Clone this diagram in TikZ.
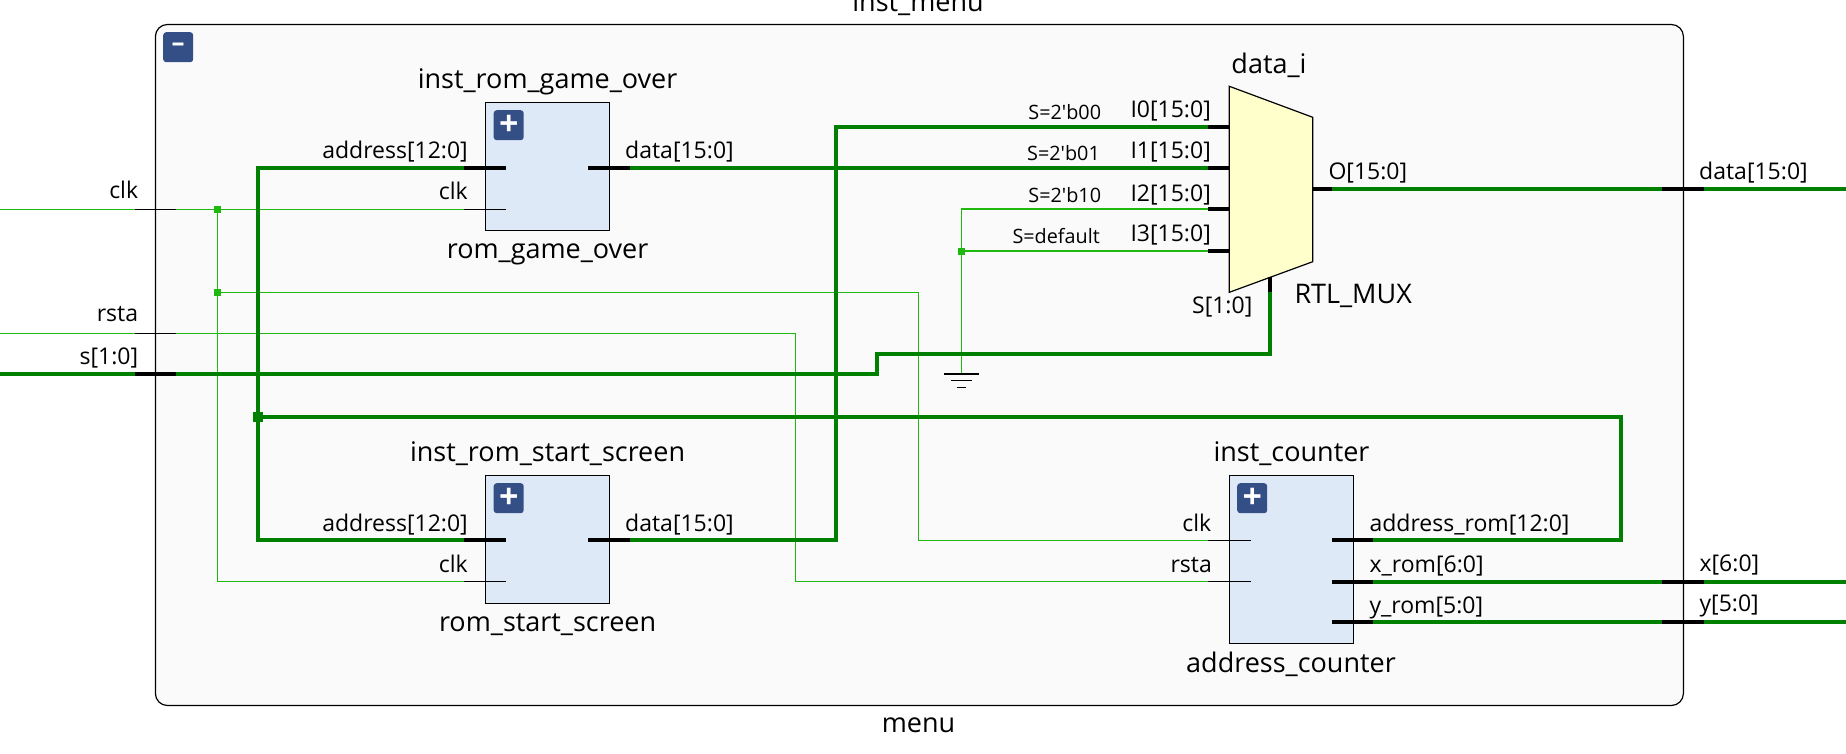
\documentclass[tikz,border=0pt]{standalone}
\usepackage{fontspec}
\setmainfont{Open Sans}
\definecolor{framebg}{HTML}{FAFAFA}
\definecolor{blockbg}{HTML}{DEE9F7}
\definecolor{muxbg}{HTML}{FFFFCC}
\definecolor{btnblue}{HTML}{344F85}
\definecolor{busgreen}{HTML}{008000}
\definecolor{netgreen}{HTML}{1FB80F}
\begin{document}
\begin{tikzpicture}[x=1pt, y=-1pt,
block/.style={draw=black, fill=blockbg, line width=1.2pt, anchor=north west, inner sep=0, outer sep=0},
button/.style={fill=btnblue, rounded corners=3pt, anchor=north west, inner sep=0, minimum width=30pt, minimum height=30pt, text=white, font=\fontsize{34}{34}\bfseries},
pinbus/.style={fill=black, inner sep=0, outer sep=0, minimum height=4pt},
pinnet/.style={fill=black, inner sep=0, outer sep=0, minimum height=1.2pt},
bus/.style={busgreen, line width=4pt},
net/.style={netgreen, line width=1.2pt},
joint/.style={inner sep=0, outer sep=0, minimum size=#1}]
\tikzstyle{lab}=[inner sep=0, font=\fontsize{23}{23}\selectfont]
\tikzstyle{namelab}=[inner sep=0, anchor=base, font=\fontsize{27}{27}\selectfont]
\tikzstyle{smalllab}=[inner sep=0, anchor=base east, font=\fontsize{19.8}{19.8}\selectfont]
\useasboundingbox (0,0) rectangle (1846,754);
%frame
\node[draw=black, fill=framebg, line width=1.2pt, rounded corners=12pt, anchor=north west, inner sep=0, outer sep=0, minimum width=1528pt, minimum height=681pt] (menuframe) at (155.4,24.5) {};
\node[button, font=\fontsize{26}{26}\bfseries] (menubtn) at (163,32) {--};
\node[namelab] (menuinst) at (918,11.7) {inst\_menu};
\node[namelab] (menuname) at (918.5,732) {menu};
%blocks
\node[block, minimum width=124pt, minimum height=128pt] (gameover) at (485.5,102.3) {};
\node[block, minimum width=124pt, minimum height=128pt] (startscreen) at (485.5,475.3) {};
\node[block, minimum width=124.4pt, minimum height=168pt] (counter) at (1229.3,475.3) {};
\node[button] (gamebtn) at (493.5,110) {+};
\node[button] (startbtn) at (493.5,483) {+};
\node[button] (counterbtn) at (1237,483) {+};
\draw[fill=muxbg, line width=1.2pt] (1229.3,86.3) -- (1312.7,117.3) -- (1312.7,261.7) -- (1229.3,292.3) -- cycle;
%pins
\node[pinnet, minimum width=41pt] (clkpin) at (155.4,209.3) {};
\node[pinnet, minimum width=41pt] (rstapin) at (155.4,333.3) {};
\node[pinbus, minimum width=41pt] (spin) at (155.4,374) {};
\node[pinbus, minimum width=42pt] (gameaddr) at (485,167.7) {};
\node[pinnet, minimum width=42pt] (gameclk) at (485,209.3) {};
\node[pinbus, minimum width=42pt] (gamedata) at (609,167.7) {};
\node[pinbus, minimum width=42pt] (startaddr) at (485,540.3) {};
\node[pinnet, minimum width=42pt] (startclk) at (485,581.8) {};
\node[pinbus, minimum width=42pt] (startdata) at (609,540.3) {};
\node[pinbus, minimum width=21pt] (muxi0) at (1218.8,126.7) {};
\node[pinbus, minimum width=21pt] (muxi1) at (1218.8,167.7) {};
\node[pinbus, minimum width=21pt] (muxi2) at (1218.8,209) {};
\node[pinbus, minimum width=21pt] (muxi3) at (1218.8,251) {};
\node[pinbus, minimum width=19.3pt] (muxo) at (1322.4,189) {};
\node[fill=black, inner sep=0, outer sep=0, minimum width=4pt, minimum height=15.6pt] (muxs) at (1270,284.5) {};
\node[pinnet, minimum width=43pt] (ctrclk) at (1229.5,540.8) {};
\node[pinnet, minimum width=43pt] (ctrrsta) at (1229.5,581.8) {};
\node[pinbus, minimum width=41pt] (ctraddr) at (1352.5,540.3) {};
\node[pinbus, minimum width=41pt] (ctrx) at (1352.5,581.6) {};
\node[pinbus, minimum width=41pt] (ctry) at (1352.5,622.2) {};
\node[pinbus, minimum width=42pt] (datapin) at (1683,189) {};
\node[pinbus, minimum width=42pt] (xpin) at (1683,581.6) {};
\node[pinbus, minimum width=42pt] (ypin) at (1683,622.2) {};
%ends and turns
\coordinate (clkin) at (0,209.3);
\coordinate (rstain) at (0,333.3);
\coordinate (sin) at (0,374);
\coordinate (dataout) at (1846,189);
\coordinate (xout) at (1846,581.6);
\coordinate (yout) at (1846,622.2);
\coordinate (clkturn) at (918.3,292.3);
\coordinate (rstaturn) at (795.8,333.3);
\coordinate (sturna) at (877,374);
\coordinate (sturnb) at (877,354);
\coordinate (addrturn) at (1621,417);
\coordinate (i0turn) at (835.5,126.7);
\coordinate (gnd) at (961.3,374);
\node[joint=7pt, fill=netgreen] (clkjoin) at (217.5,209.3) {};
\node[joint=7pt, fill=netgreen] (rstjoin) at (217.5,292.3) {};
\node[joint=7pt, fill=netgreen] (gndjoin) at (961.3,251) {};
\node[joint=10pt, fill=busgreen] (addrjoin) at (258,417) {};
%nets
\draw[net] (clkin) -- (clkpin.west);
\draw[net] (clkpin.east) -- (gameclk.west);
\draw[net] (clkjoin) |- (startclk.west);
\draw[net] (rstjoin) -- (clkturn) |- (ctrclk.west);
\draw[net] (rstain) -- (rstapin.west);
\draw[net] (rstapin.east) -- (rstaturn) |- (ctrrsta.west);
\draw[net] (muxi3.west) -- (gndjoin);
\draw[net] (gndjoin) |- (muxi2.west);
\draw[net] (gndjoin) -- (gnd);
%ground
\draw[line width=1.2pt] ([xshift=-17.5pt]gnd) -- ([xshift=17.5pt]gnd);
\draw[line width=1.2pt] ([xshift=-10.5pt,yshift=-6.7pt]gnd) -- ([xshift=10.5pt,yshift=-6.7pt]gnd);
\draw[line width=1.2pt] ([xshift=-4.7pt,yshift=-13.3pt]gnd) -- ([xshift=4.7pt,yshift=-13.3pt]gnd);
%buses
\draw[bus] (sin) -- (spin.west);
\draw[bus] (spin.east) -- (sturna) -- (sturnb) -| (muxs.south);
\draw[bus] (ctraddr.east) -| (addrturn) -- (addrjoin);
\draw[bus] (addrjoin) |- (gameaddr.west);
\draw[bus] (addrjoin) |- (startaddr.west);
\draw[bus] (gamedata.east) -- (muxi1.west);
\draw[bus] (startdata.east) -| (i0turn) -- (muxi0.west);
\draw[bus] (muxo.east) -- (datapin.west);
\draw[bus] (datapin.east) -- (dataout);
\draw[bus] (ctrx.east) -- (xpin.west);
\draw[bus] (xpin.east) -- (xout);
\draw[bus] (ctry.east) -- (ypin.west);
\draw[bus] (ypin.east) -- (yout);
%outer labels
\node[lab, anchor=base east] (clklab) at (138.3,198.3) {clk};
\node[lab, anchor=base east] (rstalab) at (138.3,321.7) {rsta};
\node[lab, anchor=base east] (slab) at (138.3,364) {s[1:0]};
\node[lab, anchor=base west] (datalab) at (1699,180) {data[15:0]};
\node[lab, anchor=base west] (xlab) at (1699.4,571) {x[6:0]};
\node[lab, anchor=base west] (ylab) at (1699.4,611.7) {y[5:0]};
%rom_game_over
\node[namelab] (gameinst) at (547.6,88.3) {inst\_rom\_game\_over};
\node[namelab] (gamename) at (547.6,258.3) {rom\_game\_over};
\node[lab, anchor=base east] (gameaddrlab) at (468,158.3) {address[12:0]};
\node[lab, anchor=base east] (gameclklab) at (468,200) {clk};
\node[lab, anchor=base west] (gamedatalab) at (625,158.3) {data[15:0]};
%rom_start_screen
\node[namelab] (startinst) at (547.6,461.7) {inst\_rom\_start\_screen};
\node[namelab] (startname) at (547.6,631.7) {rom\_start\_screen};
\node[lab, anchor=base east] (startaddrlab) at (468,531.7) {address[12:0]};
\node[lab, anchor=base east] (startclklab) at (468,572.7) {clk};
\node[lab, anchor=base west] (startdatalab) at (625,531.7) {data[15:0]};
%mux
\node[namelab] (muxinst) at (1269,73.3) {data\_i};
\node[lab, anchor=base east] (i0lab) at (1211,117.7) {I0[15:0]};
\node[lab, anchor=base east] (i1lab) at (1211,158.7) {I1[15:0]};
\node[lab, anchor=base east] (i2lab) at (1211,201) {I2[15:0]};
\node[lab, anchor=base east] (i3lab) at (1211,241.7) {I3[15:0]};
\node[smalllab] (s0lab) at (1101.3,119.3) {S=2\textquotesingle b00};
\node[smalllab] (s1lab) at (1100,160.7) {S=2\textquotesingle b01};
\node[smalllab] (s2lab) at (1101.3,202) {S=2\textquotesingle b10};
\node[smalllab] (s3lab) at (1100,243.7) {S=default};
\node[lab, anchor=base west] (olab) at (1328.3,180) {O[15:0]};
\node[lab, anchor=base east] (sellab) at (1252.5,313.3) {S[1:0]};
\node[namelab, anchor=base west] (muxname) at (1294.3,303.3) {RTL\_MUX};
%counter
\node[namelab] (ctrinst) at (1291.5,461.7) {inst\_counter};
\node[namelab] (ctrname) at (1291,672.7) {address\_counter};
\node[lab, anchor=base east] (ctrclklab) at (1211.5,531.7) {clk};
\node[lab, anchor=base east] (ctrrstalab) at (1212,572.7) {rsta};
\node[lab, anchor=base west] (ctraddrlab) at (1369.3,531.7) {address\_rom[12:0]};
\node[lab, anchor=base west] (ctrxlab) at (1369.3,572.7) {x\_rom[6:0]};
\node[lab, anchor=base west] (ctrylab) at (1369.3,613.3) {y\_rom[5:0]};
\end{tikzpicture}
\end{document}
